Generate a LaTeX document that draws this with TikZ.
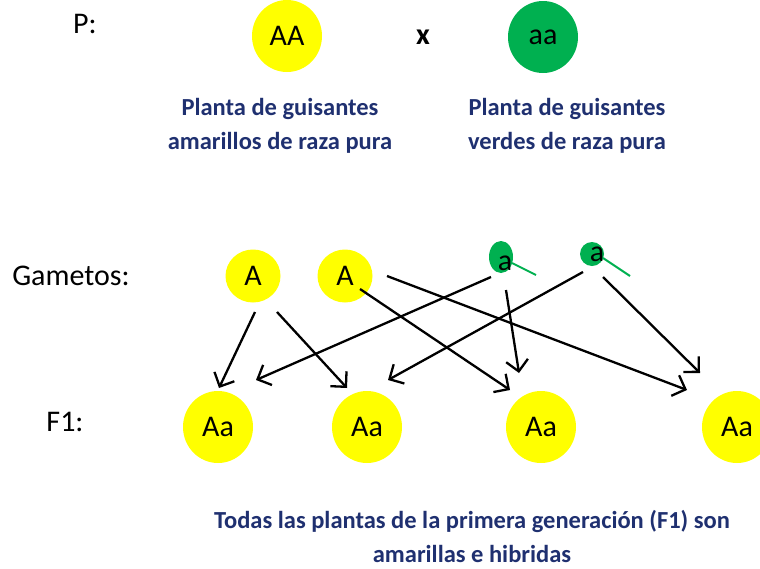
\documentclass[tikz,border=0pt]{standalone}
\usepackage{fontspec}
\setmainfont{Carlito}
\usetikzlibrary{arrows.meta,shapes.geometric}
\definecolor{amar}{HTML}{FFFF00}
\definecolor{verde}{HTML}{00B050}
\definecolor{nav}{HTML}{1F3070}
\tikzset{
  yel/.style={ellipse,fill=amar,inner sep=0pt,minimum width=70pt,minimum height=72pt,font=\fontsize{30}{30}\selectfont},
  ygam/.style={yel,minimum width=55pt,minimum height=53pt},
  grn/.style={ellipse,fill=verde,inner sep=0pt},
  lbl/.style={font=\fontsize{30}{30}\selectfont},
  txt/.style={text=nav,font=\bfseries\fontsize{24.5}{34}\selectfont,align=center},
  ar/.style={-{Straight Barb[length=11pt,width=22pt]},line width=2.3pt},
  tail/.style={draw=verde,line width=2pt},
}

\begin{document}
\begin{tikzpicture}[x=1pt,y=-1pt]
\useasboundingbox (0,0) rectangle (760,568);
\node[lbl] (p) at (85,24) {P:};
\node[yel] (pa) at (287,36) {AA};
\node[lbl,font=\bfseries\fontsize{30}{30}\selectfont] (x) at (423,37) {x};
\node[grn,minimum width=70pt,minimum height=72pt,font=\fontsize{30}{30}\selectfont] (pb) at (543,37) {aa};
\node[txt] (t1) at (280,126) {Planta de guisantes\\amarillos de raza pura};
\node[txt] (t2) at (567,126) {Planta de guisantes\\verdes de raza pura};

\node[lbl] (gl) at (71,276) {Gametos:};
\node[ygam] (g1) at (253,276) {A};
\node[ygam] (g2) at (345,276) {A};
\node[grn,minimum width=24pt,minimum height=32pt] (g3) at (501,257) {};
\node[lbl] (g3t) at (505,263) {a};
\node[grn,minimum width=24pt,minimum height=24pt] (g4) at (592,254) {};
\node[lbl] (g4t) at (597,254) {a};
\coordinate (c3) at (536,275);
\coordinate (c4) at (630,276);
\draw[tail] ([shift={(7,0)}]g3t.center) -- (c3);
\draw[tail] ([shift={(6,4)}]g4t.center) -- (c4);

\node[lbl] (fl) at (65,422) {F1:};
\node[yel] (f1) at (218,427) {Aa};
\node[yel] (f2) at (367,427) {Aa};
\node[yel] (f3) at (541,427) {Aa};
\node[yel] (f4) at (737,427) {Aa};

\draw[ar] ([shift={(2,36)}]g1.center) -- ([shift={(1,-39)}]f1.center);
\draw[ar] ([shift={(24,36)}]g1.center) -- ([shift={(-20,-39)}]f2.center);
\draw[ar] ([shift={(15,13)}]g2.center) -- ([shift={(-31,-37)}]f3.center);
\draw[ar] ([shift={(42,0)}]g2.center) -- ([shift={(-50,-37)}]f4.center);
\draw[ar] ([shift={(-10,20)}]g3.center) -- ([shift={(38,-47)}]f1.center);
\draw[ar] ([shift={(5,33)}]g3.center) -- ([shift={(-22,-54)}]f3.center);
\draw[ar] ([shift={(-9,18)}]g4.center) -- ([shift={(21,-47)}]f2.center);
\draw[ar] ([shift={(11,23)}]g4.center) -- ([shift={(-37,-54)}]f4.center);

\node[txt] (t3) at (472,536) {Todas las plantas de la primera generación (F1) son\\amarillas e hibridas};
\end{tikzpicture}
\end{document}
